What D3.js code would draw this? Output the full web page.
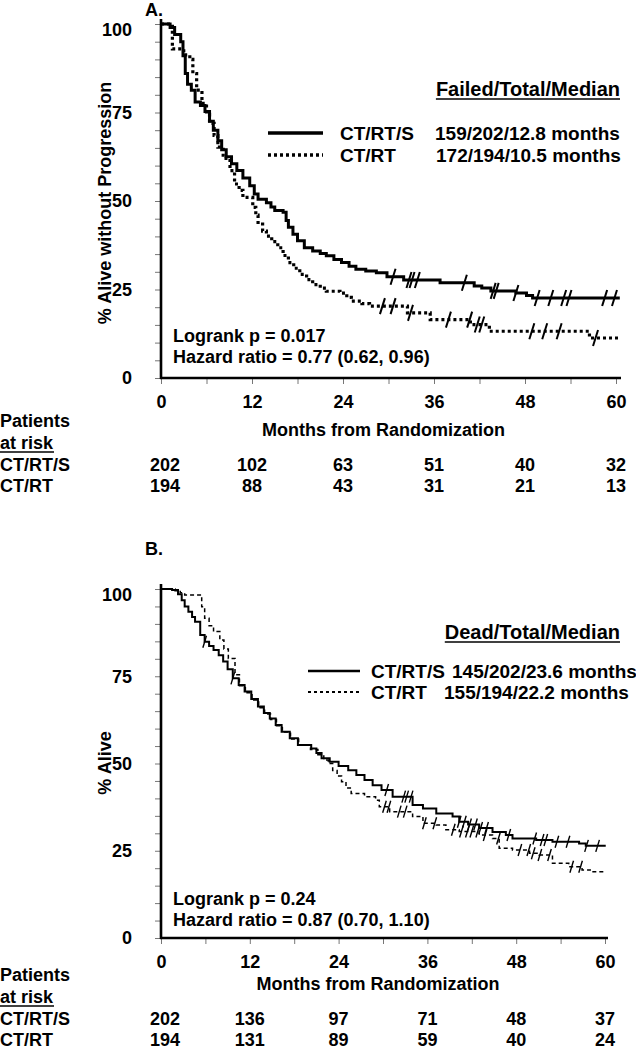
<!DOCTYPE html>
<html>
<head>
<meta charset="utf-8">
<script src="https://cdn.jsdelivr.net/npm/d3@7"></script>
<style>
  body { margin: 0; background: #fff; }
  text { font-family: "Liberation Sans", Arial, sans-serif; font-weight: bold; fill: #000; }
</style>
</head>
<body>
<svg id="svg" width="636" height="1049"></svg>
<script>
const months = [0, 12, 24, 36, 48, 60];
const pct = [0, 25, 50, 75, 100];
const arms = ["CT/RT/S", "CT/RT"];

// A. progression-free survival
const pfsTimeS = [0, 1.2, 1.8, 2.6, 2.9, 3.2, 3.5, 4.0, 4.5, 5.2, 5.8, 6.4, 6.9, 7.5, 8.0, 8.6, 9.3, 10.0, 10.8, 11.7, 12.3, 12.8, 13.9, 14.5, 15.0, 16.1, 16.5, 16.8, 17.4, 18.0, 18.9, 20.0, 21.0, 21.8, 22.8, 23.8, 24.8, 25.7, 27.0, 28.4, 29.8, 32.0, 36.8, 41.3, 42.3, 43.5, 46.8, 48.2, 49.0, 60.5];
const pfsSurvS = [100, 99, 97, 95, 91, 86, 83, 81.3, 78, 77, 75.3, 72.5, 70, 67, 64.5, 62.5, 60.5, 58.6, 56.5, 54.3, 52, 50.5, 49.5, 48.3, 47.3, 46.8, 44.5, 42.6, 40.6, 38.8, 36.8, 35.9, 35.2, 34.5, 33.5, 32.6, 31.6, 30.7, 30.2, 29.7, 28.6, 27.7, 26.9, 26.0, 25.4, 24.6, 24.0, 23.3, 22.6, 22.6];
const pfsCensS = [30.6, 32.7, 33.1, 33.8, 40.0, 43.8, 44.2, 46.8, 49.6, 51.4, 53.1, 53.8, 58.5, 59.8];
const pfsTimeR = [0, 1.5, 3.0, 3.8, 4.2, 4.7, 5.4, 6.0, 6.4, 7.0, 7.5, 8.2, 9.1, 9.7, 10.3, 10.8, 12.1, 12.5, 12.8, 13.4, 13.9, 14.6, 15.4, 16.1, 16.8, 17.5, 18.3, 19.2, 20.0, 21.0, 21.8, 23.6, 24.5, 25.1, 26.5, 27.5, 32.5, 35.5, 40.8, 43.3, 56.5, 60.5];
const pfsSurvR = [100, 93, 91.3, 90, 86, 81.3, 77.6, 74.5, 71.9, 68.5, 65.2, 62, 58.6, 54.8, 53, 51, 48.2, 46, 43.5, 41.5, 40.1, 38.5, 36.8, 34.6, 32.6, 31, 29.3, 27.8, 26.4, 25.4, 24.5, 24, 22.8, 21.7, 21, 20.3, 18.4, 16.5, 15.1, 13.2, 11.3, 11.3];
const pfsCensR = [29.2, 30.6, 32.9, 37.9, 40.7, 41.7, 42.3, 48.9, 50.6, 52.5, 57.3];
const pfsRiskS = [202, 102, 63, 51, 40, 32];
const pfsRiskR = [194, 88, 43, 31, 21, 13];
const pfsLegend = ["159/202/12.8 months", "172/194/10.5 months"];
const pfsStats = ["Logrank p = 0.017", "Hazard ratio = 0.77 (0.62, 0.96)"];

// B. overall survival
const osTimeS = [0, 1.5, 2.3, 2.8, 3.2, 3.7, 4.2, 4.6, 5.3, 5.9, 6.5, 7.1, 7.8, 8.4, 9.0, 9.7, 10.5, 11.3, 12.2, 13.1, 13.9, 14.7, 15.5, 16.3, 17.4, 18.5, 20.3, 21.0, 21.7, 22.8, 24.0, 25.3, 26.4, 27.5, 28.6, 29.8, 31.3, 34.0, 35.4, 37.2, 39.4, 40.3, 41.5, 43.0, 44.8, 46.6, 47.5, 50.7, 52.9, 56.5, 57.4, 60.1];
const osSurvS = [100, 99.7, 98.5, 96.8, 95, 93.5, 92, 90.6, 86.8, 84.9, 83.7, 82.5, 81, 79.2, 77, 74.4, 72.5, 70.6, 68.5, 66.3, 64.5, 62.9, 61, 59.1, 57.2, 55.3, 54.3, 53, 51.5, 50.5, 49.3, 48.1, 46.7, 45.3, 43.8, 42.4, 40.5, 38.1, 37.1, 35.7, 34.8, 33.3, 32.5, 31.5, 30.4, 29.5, 28.5, 28.1, 27.6, 27.1, 26.4, 26.4];
const osCensS = [5.9, 9.7, 30.5, 32.8, 33.2, 33.8, 40.3, 41.0, 41.7, 42.5, 43.2, 44.0, 47.0, 50.5, 51.5, 52.0, 53.5, 55.0, 57.5, 59.0];
const osTimeR = [0, 1.9, 2.6, 3.2, 5.5, 5.9, 6.5, 7.1, 7.95, 8.5, 9.1, 10.0, 10.6, 11.4, 12.3, 13.2, 14.0, 14.8, 15.6, 16.4, 17.5, 18.6, 20.2, 21.2, 22.0, 22.6, 23.2, 23.8, 24.4, 25.0, 25.7, 27.5, 29.0, 29.5, 30.9, 34.0, 35.4, 37.2, 38.5, 40.3, 43.0, 44.8, 45.7, 47.5, 49.8, 51.1, 52.9, 55.1, 56.9, 58.0, 60.1];
const osSurvR = [100, 99.5, 98.9, 98.3, 94.9, 91.6, 89.5, 87.8, 85.4, 82.8, 80.1, 75.4, 72.3, 70.3, 68.2, 66, 64.2, 62.6, 60.8, 59, 57, 55.2, 54, 52.5, 51, 50, 48, 46.4, 44.8, 43, 41.4, 40.5, 39.5, 37.6, 36.2, 34.8, 32.9, 32.4, 31, 30.5, 29.5, 28.5, 25.7, 25.2, 24.3, 23.8, 21.4, 20.4, 19.5, 19, 19];
const osCensR = [30.2, 30.8, 32.2, 33.0, 35.6, 37.0, 39.5, 40.6, 41.4, 42.0, 42.8, 43.8, 45.6, 48.5, 49.7, 50.3, 51.2, 52.5, 55.5, 56.7];
const osRiskS = [202, 136, 97, 71, 48, 37];
const osRiskR = [194, 131, 89, 59, 40, 24];
const osLegend = ["145/202/23.6 months", "155/194/22.2 months"];
const osStats = ["Logrank p = 0.24", "Hazard ratio = 0.87 (0.70, 1.10)"];

const svg = d3.select("#svg");

function stepAt(times, surv, t) {
    let i = d3.bisectRight(times, t) - 1;
    return surv[Math.max(0, i)];
}

function underline(g, textSel) {
    const bb = textSel.node().getBBox();
    g.append("line")
        .attr("x1", bb.x).attr("x2", bb.x + bb.width)
        .attr("y1", +textSel.attr("y") + 3).attr("y2", +textSel.attr("y") + 3)
        .attr("stroke", "#000").attr("stroke-width", 1.6);
}

function drawPanel(p) {
    const g = svg.append("g");
    const x = d3.scaleLinear([0, 60], [p.x0, p.x1]);
    const y = d3.scaleLinear([0, 100], [p.yb, p.yt]);

    // minor ticks
    g.append("g").attr("transform", "translate(0," + p.yb + ")")
        .call(d3.axisBottom(x).tickValues(d3.range(0, 61, 6)).tickSize(6).tickSizeOuter(0).tickFormat(""))
        .call(a => a.select(".domain").remove())
        .selectAll("line").attr("stroke", "#777");
    g.append("g").attr("transform", "translate(" + p.x0 + ",0)")
        .call(d3.axisLeft(y).tickValues(d3.range(0, 101, 5)).tickSize(6).tickSizeOuter(0).tickFormat(""))
        .call(a => a.select(".domain").remove())
        .selectAll("line").attr("stroke", "#777");

    // major labels
    const xa = g.append("g").attr("transform", "translate(0," + p.yb + ")")
        .call(d3.axisBottom(x).tickValues(months).tickSize(0).tickPadding(p.xPad).tickSizeOuter(0));
    xa.select(".domain").remove();
    xa.attr("font-family", null);
    xa.selectAll("text").style("font-size", "18px").attr("fill", "#000");
    const ya = g.append("g").attr("transform", "translate(" + p.x0 + ",0)")
        .call(d3.axisLeft(y).tickValues(pct).tickSize(0).tickPadding(29).tickSizeOuter(0));
    ya.select(".domain").remove();
    ya.attr("font-family", null);
    ya.selectAll("text").style("font-size", "18px").attr("fill", "#000")
        .attr("dy", d => d === 100 ? "0.62em" : "0.32em");

    // axis lines
    g.append("line").attr("x1", p.x0).attr("x2", p.x0).attr("y1", p.yb + 1).attr("y2", p.axTop)
        .attr("stroke", "#000").attr("stroke-width", 2.6);
    g.append("line").attr("x1", p.x0 - 1).attr("x2", p.axRight).attr("y1", p.yb).attr("y2", p.yb)
        .attr("stroke", "#000").attr("stroke-width", 2.6);

    // curves
    const line = d3.line().curve(d3.curveStepAfter).x(d => x(d[0])).y(d => y(d[1]));
    const series = [
        {t: p.timeS, s: p.survS, c: p.censS, dash: null, w: p.wS},
        {t: p.timeR, s: p.survR, c: p.censR, dash: p.dash, w: p.wR}
    ];
    series.forEach(sr => {
        g.append("path").datum(d3.zip(sr.t, sr.s))
            .attr("d", line).attr("fill", "none").attr("stroke", "#000")
            .attr("stroke-width", sr.w).attr("stroke-dasharray", sr.dash);
        g.selectAll(null).data(sr.c).enter().append("line")
            .attr("x1", d => x(d) - p.cw).attr("x2", d => x(d) + p.cw)
            .attr("y1", d => y(stepAt(sr.t, sr.s, d)) + p.ch)
            .attr("y2", d => y(stepAt(sr.t, sr.s, d)) - p.ch)
            .attr("stroke", "#000").attr("stroke-width", p.cStroke);
    });

    // panel letter and y title
    g.append("text").attr("x", 145).attr("y", p.letterY).style("font-size", "18px").text(p.letter);
    g.append("text").attr("transform", "translate(111," + p.titleY + ") rotate(-90)")
        .attr("text-anchor", "middle").style("font-size", "18px").text(p.yTitle);

    // legend
    const hdr = g.append("text").attr("x", 620).attr("y", p.legY).attr("text-anchor", "end")
        .style("font-size", "20px").text(p.legTitle);
    underline(g, hdr);
    [0, 1].forEach(i => {
        const ly = p.legRowY[i];
        g.append("line").attr("x1", p.legLine[0]).attr("x2", p.legLine[1]).attr("y1", ly).attr("y2", ly)
            .attr("stroke", "#000").attr("stroke-width", i ? p.wR + 0.5 : p.wS + 0.5)
            .attr("stroke-dasharray", i ? p.legDash : null);
        g.append("text").attr("x", p.legText[0]).attr("y", ly + 7).style("font-size", "19px").text(arms[i]);
        g.append("text").attr("x", p.legText[1][i]).attr("y", ly + 7)
            .style("font-size", "19px").text(p.legend[i]);
    });

    // stats
    p.stats.forEach((s, i) => {
        g.append("text").attr("x", 173).attr("y", p.statY + i * 21).style("font-size", "18px").text(s);
    });

    // at risk table
    g.append("text").attr("x", 0).attr("y", p.tabY).style("font-size", "18px").text("Patients");
    const ar = g.append("text").attr("x", 0).attr("y", p.tabY + 22).style("font-size", "18px").text("at risk");
    underline(g, ar);
    g.append("text").attr("x", (p.x0 + p.x1) / 2 - 5).attr("y", p.tabY + 9).attr("text-anchor", "middle")
        .style("font-size", "18px").text("Months from Randomization");
    [p.riskS, p.riskR].forEach((row, i) => {
        const ry = p.tabY + 44 + i * 21;
        g.append("text").attr("x", 0).attr("y", ry).style("font-size", "18px").text(arms[i]);
        g.selectAll(null).data(row).enter().append("text")
            .attr("x", (d, j) => x(months[j]) + (j === 0 ? 4 : 0))
            .attr("y", ry).attr("text-anchor", "middle").style("font-size", "18px")
            .text(d => d);
    });
}

drawPanel({
    letter: "A.", letterY: 16, yTitle: "% Alive without Progression", titleY: 203,
    x0: 161, x1: 616, yb: 378, yt: 24, axTop: 19, axRight: 621, xPad: 17,
    timeS: pfsTimeS, survS: pfsSurvS, censS: pfsCensS,
    timeR: pfsTimeR, survR: pfsSurvR, censR: pfsCensR,
    wS: 3, wR: 3.2, dash: "3,3", cw: 2.5, ch: 8, cStroke: 2,
    legTitle: "Failed/Total/Median", legY: 96, legRowY: [133, 155],
    legLine: [268, 323], legText: [340, [435, 436]], legDash: "3,3",
    legend: pfsLegend, stats: pfsStats, statY: 342,
    tabY: 427, riskS: pfsRiskS, riskR: pfsRiskR
});

drawPanel({
    letter: "B.", letterY: 555, yTitle: "% Alive", titleY: 763,
    x0: 161, x1: 605, yb: 938, yt: 589, axTop: 584, axRight: 608, xPad: 17,
    timeS: osTimeS, survS: osSurvS, censS: osCensS,
    timeR: osTimeR, survR: osSurvR, censR: osCensR,
    wS: 2, wR: 1.5, dash: "4,3", cw: 1.8, ch: 6, cStroke: 1.4,
    legTitle: "Dead/Total/Median", legY: 639, legRowY: [671, 692],
    legLine: [308, 360], legText: [371, [452, 444]], legDash: "3,3",
    legend: osLegend, stats: osStats, statY: 905,
    tabY: 981, riskS: osRiskS, riskR: osRiskR
});
</script>
</body>
</html>
